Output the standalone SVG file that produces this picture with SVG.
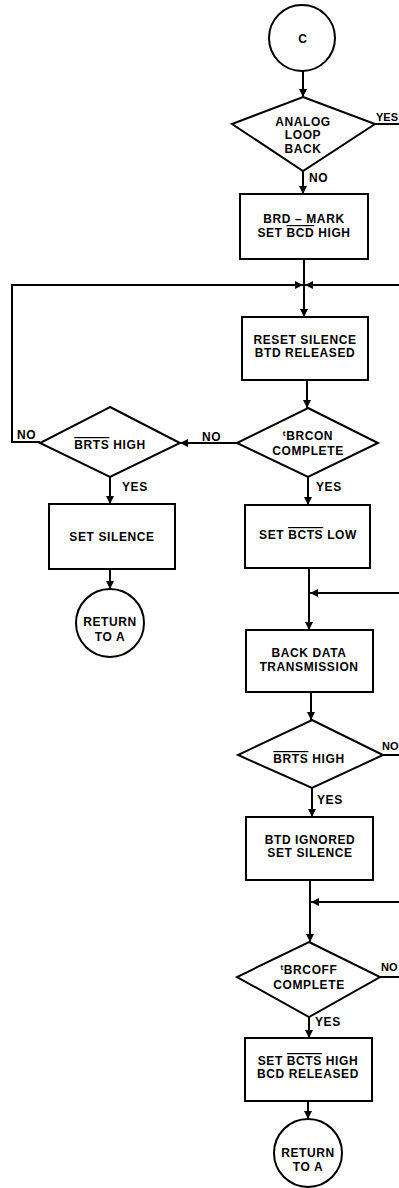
<svg xmlns="http://www.w3.org/2000/svg" width="399" height="1188" viewBox="0 0 399 1188">
<style>
.n{fill:#fff;stroke:#000;stroke-width:2}
.c{fill:none;stroke:#000;stroke-width:2}
text{font-family:"Liberation Sans",Arial,sans-serif;font-weight:bold;font-size:12px;letter-spacing:0.6px;fill:#000}
.m{text-anchor:middle}
.ob{text-decoration:overline}
.e{font-size:11px;letter-spacing:0}
</style>
<defs>
<marker id="ar" markerUnits="userSpaceOnUse" markerWidth="8" markerHeight="8" refX="8" refY="4" orient="auto">
<path d="M0,0 L8,4 L0,8 z" fill="#000"/>
</marker>
</defs>
<rect width="399" height="1188" fill="#fff"/>
<g id="connectors" class="c">
<path d="M303,71 V97" marker-end="url(#ar)"/>
<path d="M303,171 V194" marker-end="url(#ar)"/>
<path d="M375,124 H399"/>
<path d="M304,259 V317" marker-end="url(#ar)"/>
<path d="M40,442 H12 V285 H303" marker-end="url(#ar)"/>
<path d="M399,285 H305" marker-end="url(#ar)"/>
<path d="M307,380 V408" marker-end="url(#ar)"/>
<path d="M237,443 H180" marker-end="url(#ar)"/>
<path d="M110,477 V504" marker-end="url(#ar)"/>
<path d="M308,477 V505" marker-end="url(#ar)"/>
<path d="M110,569 V589" marker-end="url(#ar)"/>
<path d="M309,568 V630" marker-end="url(#ar)"/>
<path d="M399,593 H310" marker-end="url(#ar)"/>
<path d="M311,692 V720" marker-end="url(#ar)"/>
<path d="M383,755 H399"/>
<path d="M312,788 V817" marker-end="url(#ar)"/>
<path d="M310,880 V942" marker-end="url(#ar)"/>
<path d="M399,902 H311" marker-end="url(#ar)"/>
<path d="M380,977 H399"/>
<path d="M309,1017 V1038" marker-end="url(#ar)"/>
<path d="M308,1101 V1119" marker-end="url(#ar)"/>
</g>
<g id="labels">
<text class="e" x="376" y="121">YES</text>
<text x="309" y="182">NO</text>
<text x="17" y="439">NO</text>
<text x="202" y="441">NO</text>
<text x="122" y="491">YES</text>
<text x="316" y="491">YES</text>
<text class="e" x="382" y="750">NO</text>
<text x="317" y="804">YES</text>
<text class="e" x="381" y="971">NO</text>
<text x="315" y="1026">YES</text>
</g>
<g id="start-c">
<circle class="n" cx="302" cy="38" r="33"/>
<text class="m" x="303" y="43">C</text>
</g>
<g id="analog-loop-back">
<polygon class="n" points="303,97 375,124 303,171 232,124"/>
<text class="m" x="303" y="126">ANALOG</text>
<text class="m" x="303" y="139">LOOP</text>
<text class="m" x="303" y="153">BACK</text>
</g>
<g id="brd-mark">
<rect class="n" x="240" y="194" width="128" height="65"/>
<text class="m" x="304" y="223">BRD – MARK</text>
<text class="m" x="304" y="237">SET <tspan class="ob">BCD</tspan> HIGH</text>
</g>
<g id="reset-silence">
<rect class="n" x="242" y="317" width="126" height="63"/>
<text class="m" x="305" y="344">RESET SILENCE</text>
<text class="m" x="305" y="357">BTD RELEASED</text>
</g>
<g id="brts-high-1">
<polygon class="n" points="110,407 180,443 110,477 40,443"/>
<text class="m" x="110" y="449"><tspan class="ob">BRTS</tspan> HIGH</text>
</g>
<g id="brcon-complete">
<polygon class="n" points="308,408 378,443 308,477 237,443"/>
<text class="m" x="308" y="440"><tspan font-size="8" dy="-4">t</tspan><tspan dy="4">BRCON</tspan></text>
<text class="m" x="308" y="455">COMPLETE</text>
</g>
<g id="set-silence-1">
<rect class="n" x="49" y="504" width="126" height="65"/>
<text class="m" x="112" y="541">SET SILENCE</text>
</g>
<g id="set-bcts-low">
<rect class="n" x="245" y="505" width="125" height="63"/>
<text class="m" x="308" y="539">SET <tspan class="ob">BCTS</tspan> LOW</text>
</g>
<g id="return-a-1">
<circle class="n" cx="110" cy="623" r="34"/>
<text class="m" x="110" y="626">RETURN</text>
<text class="m" x="110" y="641">TO A</text>
</g>
<g id="back-data">
<rect class="n" x="246" y="630" width="127" height="62"/>
<text class="m" x="309" y="657">BACK DATA</text>
<text class="m" x="309" y="671">TRANSMISSION</text>
</g>
<g id="brts-high-2">
<polygon class="n" points="312,720 383,755 312,788 238,755"/>
<text class="m" x="309" y="763"><tspan class="ob">BRTS</tspan> HIGH</text>
</g>
<g id="btd-ignored">
<rect class="n" x="246" y="817" width="127" height="63"/>
<text class="m" x="310" y="844">BTD IGNORED</text>
<text class="m" x="310" y="857">SET SILENCE</text>
</g>
<g id="brcoff-complete">
<polygon class="n" points="309,942 380,977 309,1017 237,977"/>
<text class="m" x="309" y="974"><tspan font-size="8" dy="-4">t</tspan><tspan dy="4">BRCOFF</tspan></text>
<text class="m" x="309" y="989">COMPLETE</text>
</g>
<g id="set-bcts-high">
<rect class="n" x="245" y="1038" width="127" height="63"/>
<text class="m" x="308" y="1065">SET <tspan class="ob">BCTS</tspan> HIGH</text>
<text class="m" x="308" y="1078">BCD RELEASED</text>
</g>
<g id="return-a-2">
<circle class="n" cx="308" cy="1153" r="34"/>
<text class="m" x="308" y="1157">RETURN</text>
<text class="m" x="308" y="1171">TO A</text>
</g>
</svg>
